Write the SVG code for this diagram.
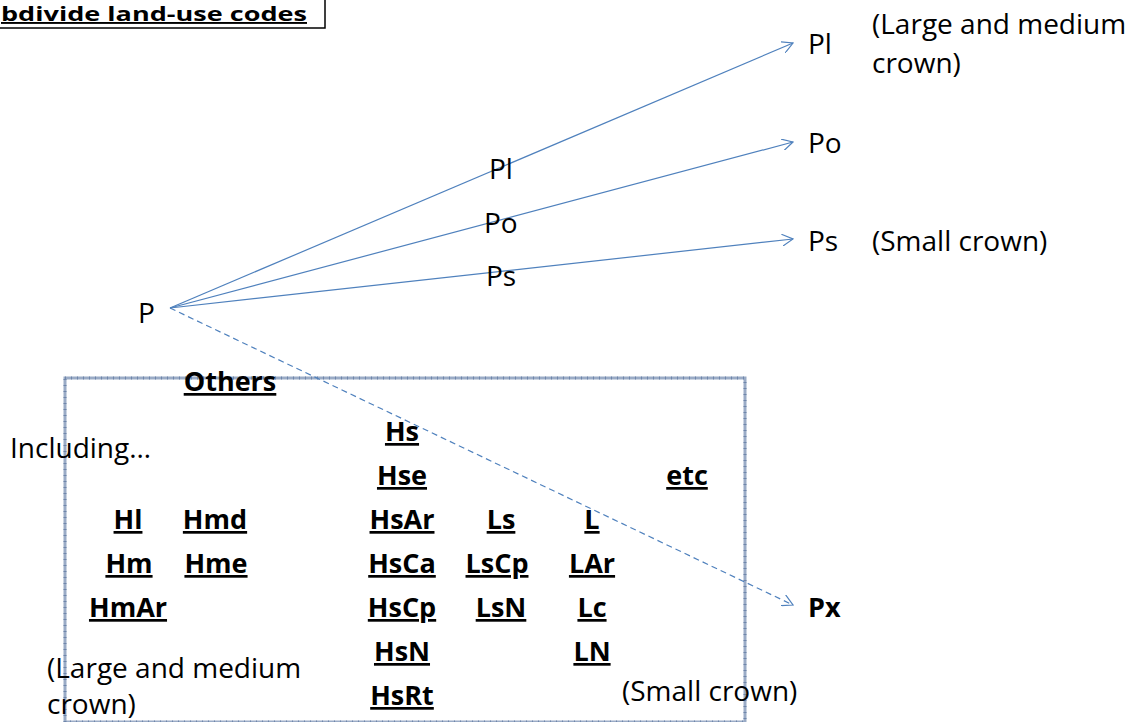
<svg xmlns="http://www.w3.org/2000/svg" width="1144" height="722" viewBox="0 0 1144 722">
<defs>
<style>
text{font-family:"Open Sans","Liberation Sans",sans-serif;font-size:28px;fill:#000}
.b{font-weight:bold;text-decoration:underline;font-size:27px}
.c{text-anchor:middle}
.conn{stroke:#4f81bd;stroke-width:1.2;fill:none}
.dash{stroke-dasharray:6 4}
</style>
<marker id="arr" viewBox="0 0 12 12" refX="11" refY="6" markerWidth="12" markerHeight="12" markerUnits="userSpaceOnUse" orient="auto">
<path d="M0,0 L11,6 L0,12" fill="none" stroke="#4f81bd" stroke-width="1.2"/>
</marker>
</defs>
<rect width="1144" height="722" fill="#fff"/>
<g id="title">
<rect x="-5" y="-5" width="330" height="33" fill="#fff" stroke="#000" stroke-width="1.5"/>
<text class="b" x="1" y="21" style="font-size:19px" textLength="306" lengthAdjust="spacingAndGlyphs">bdivide land-use codes</text>
</g>
<g id="others-box">
<rect x="65" y="378" width="680" height="344" fill="none" stroke="#9aabc6" stroke-width="3"/>
<rect x="65" y="378" width="680" height="344" fill="none" stroke="#6f86aa" stroke-width="3" stroke-dasharray="1 5"/>
</g>
<g id="connectors">
<line class="conn" x1="170" y1="308" x2="793" y2="43" marker-end="url(#arr)"/>
<line class="conn" x1="170" y1="308" x2="793" y2="142" marker-end="url(#arr)"/>
<line class="conn" x1="170" y1="308" x2="793" y2="239" marker-end="url(#arr)"/>
<line class="conn dash" x1="170" y1="308" x2="793" y2="605" marker-end="url(#arr)"/>
<text x="489" y="179">Pl</text>
<text x="484" y="233">Po</text>
<text x="486" y="286">Ps</text>
</g>
<g id="node-P"><text x="138" y="323">P</text></g>
<g id="node-Pl"><text x="808" y="54">Pl</text><text x="872" y="34">(Large and medium</text><text x="872" y="73">crown)</text></g>
<g id="node-Po"><text x="808" y="153">Po</text></g>
<g id="node-Ps"><text x="808" y="251">Ps</text><text x="872" y="251">(Small crown)</text></g>
<g id="node-Px"><text x="808" y="617" font-weight="bold" style="font-size:27px">Px</text></g>
<g id="node-others">
<text class="b c" x="230" y="391">Others</text>
<text x="10" y="458">Including…</text>
<text class="b c" x="128" y="529">Hl</text>
<text class="b c" x="215" y="529">Hmd</text>
<text class="b c" x="129" y="573">Hm</text>
<text class="b c" x="216" y="573">Hme</text>
<text class="b c" x="128" y="617">HmAr</text>
<text x="47" y="678">(Large and medium</text>
<text x="47" y="714">crown)</text>
<text class="b c" x="402" y="441">Hs</text>
<text class="b c" x="402" y="485">Hse</text>
<text class="b c" x="402" y="529">HsAr</text>
<text class="b c" x="402" y="573">HsCa</text>
<text class="b c" x="402" y="617">HsCp</text>
<text class="b c" x="402" y="661">HsN</text>
<text class="b c" x="402" y="705">HsRt</text>
<text class="b c" x="501" y="529">Ls</text>
<text class="b c" x="497" y="573">LsCp</text>
<text class="b c" x="501" y="617">LsN</text>
<text class="b c" x="592" y="529">L</text>
<text class="b c" x="592" y="573">LAr</text>
<text class="b c" x="592" y="617">Lc</text>
<text class="b c" x="592" y="661">LN</text>
<text class="b c" x="687" y="485">etc</text>
<text x="622" y="701">(Small crown)</text>
</g>
</svg>
